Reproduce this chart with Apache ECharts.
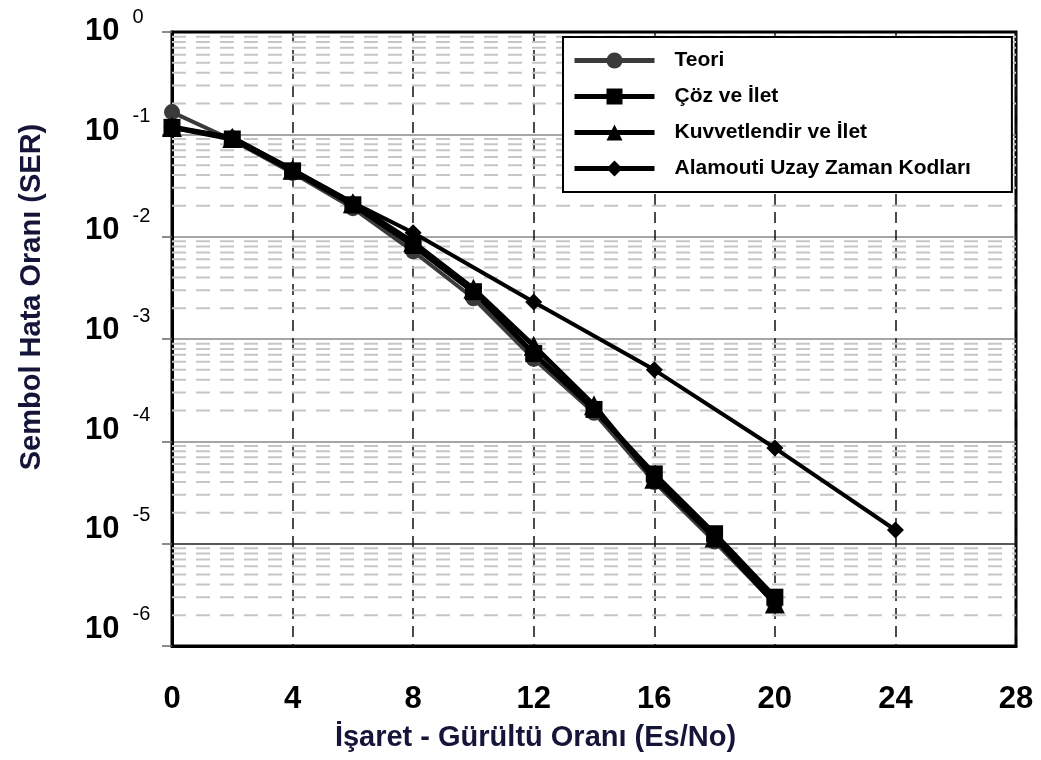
<!DOCTYPE html>
<html><head><meta charset="utf-8">
<script src="https://cdn.jsdelivr.net/npm/echarts@6/dist/echarts.min.js"></script>
<style>html,body{margin:0;padding:0;background:#fff}#c{width:1041px;height:760px}</style>
</head><body><div id="c"></div>
<script>
// ---- data ----
const snr = [0, 2, 4, 6, 8, 10, 12, 14, 16, 18, 20];
const serTeori = [0.165, 0.088, 0.042, 0.019, 0.0072, 0.0025, 6.4e-4, 1.9e-4, 4.0e-5, 1.05e-5, 2.6e-6];
const serCoz = [0.117, 0.090, 0.044, 0.0205, 0.0082, 0.0029, 7.2e-4, 2.05e-4, 4.8e-5, 1.25e-5, 3.0e-6];
const serKuv = [0.118, 0.092, 0.045, 0.0212, 0.0088, 0.0031, 8.6e-4, 2.25e-4, 4.3e-5, 1.15e-5, 2.6e-6];
const snrAlamouti = [0, 2, 4, 6, 8, 12, 16, 20, 24];
const serAlamouti = [0.116, 0.094, 0.045, 0.0215, 0.0109, 2.3e-3, 5.0e-4, 8.6e-5, 1.36e-5];
const seriesNames = ['Teori', 'Çöz ve İlet', 'Kuvvetlendir ve İlet', 'Alamouti Uzay Zaman Kodları'];
const xTickLabels = ['0', '4', '8', '12', '16', '20', '24', '28'];
const minorMantissas = [2, 3, 4, 5, 6, 7, 8, 9];
const decadeExponents = [-6, -5, -4, -3, -2, -1];
const xRange = [0, 28];
const yRange = [1e-6, 1];
const xTitle = 'İşaret - Gürültü Oranı (Es/No)';
const yTitle = 'Sembol Hata Oranı (SER)';

// ---- styling ----
const FONT = 'Liberation Sans';
// tick labels of the original sit on a slightly tighter spacing than the grid
const LABEL_TOP = 27.1, LABEL_DECADE = 99.63;
const labelGridTop = LABEL_TOP, labelGridHeight = LABEL_DECADE * 6;

const minorData = [];
decadeExponents.forEach(e => minorMantissas.forEach(m => {
  const v = m * Math.pow(10, e);
  minorData.push([xRange[0], v], [xRange[1], v], [xRange[1], '-']);
}));

const zip = (xs, ys) => xs.map((x, i) => [x, ys[i]]);
const chart = echarts.init(document.getElementById('c'), null, { renderer: 'canvas' });
chart.setOption({
  animation: false,
  backgroundColor: '#fff',
  grid: [
    { left: 172, right: 25, top: 32, bottom: 114, show: true, borderColor: '#000', borderWidth: 3, backgroundColor: 'transparent' },
    { left: 172, right: 25, top: labelGridTop, height: labelGridHeight, show: false }
  ],
  legend: {
    z: 20,
    data: seriesNames, orient: 'vertical', left: 563, top: 37, padding: [13, 41, 13, 9],
    itemWidth: 80, itemHeight: 20, itemGap: 15, backgroundColor: '#fff', borderColor: '#000', borderWidth: 2,
    lineStyle: { width: 5 },
    textStyle: { fontSize: 21, fontWeight: 'bold', fontFamily: FONT, color: '#000', padding: [0, 0, 0, 15] }
  },
  xAxis: [{
    type: 'value', min: xRange[0], max: xRange[1], interval: 4, gridIndex: 0,
    name: xTitle, nameLocation: 'middle', nameGap: 77,
    nameTextStyle: { fontSize: 29, fontWeight: 'bold', fontFamily: FONT, color: '#15153a', padding: [0, 117, 0, 0] },
    axisLine: { show: true, lineStyle: { color: '#000', width: 3 } },
    axisTick: { show: false },
    axisLabel: { margin: 38, fontSize: 31, fontWeight: 'bold', fontFamily: FONT, color: '#000',
      formatter: (v) => xTickLabels[Math.round(v / 4)] },
    splitLine: { show: true, lineStyle: { color: '#111', width: 1.5, type: [11, 7] } }
  }, {
    type: 'value', min: xRange[0], max: xRange[1], gridIndex: 1, show: false
  }],
  yAxis: [{
    type: 'log', logBase: 10, min: yRange[0], max: yRange[1], gridIndex: 0,
    name: yTitle, nameLocation: 'middle', nameGap: 126, nameRotate: 90,
    nameTextStyle: { fontSize: 29, fontWeight: 'bold', fontFamily: FONT, color: '#15153a', padding: [0, 0, 0, 84] },
    axisLine: { show: true, lineStyle: { color: '#000', width: 3 } },
    axisTick: { show: true, inside: false, length: 10, lineStyle: { color: '#666', width: 1.5 } },
    axisLabel: { show: false },
    splitLine: { show: true, lineStyle: { color: ['#000', '#222', '#888', '#888', '#888', '#888', '#000'], width: 1.5 } }
  }, {
    type: 'log', logBase: 10, min: yRange[0], max: yRange[1], gridIndex: 1,
    axisLine: { show: false }, axisTick: { show: false }, splitLine: { show: false },
    axisLabel: {
      align: 'left', margin: 87,
      rich: {
        b: { fontSize: 31, fontWeight: 'bold', fontFamily: FONT, color: '#000', verticalAlign: 'top', padding: [9, 0, 0, 0] },
        e: { fontSize: 20, fontFamily: FONT, color: '#000', verticalAlign: 'top', padding: [0, 0, 0, 13] }
      },
      formatter: (v) => { const k = Math.round(-Math.log10(v)); return '{b|10}{e|' + (k === 0 ? '0' : '-' + k) + '}'; }
    }
  }],
  series: [
    { type: 'line', z: 1, silent: true, data: minorData, symbol: 'none', connectNulls: false,
      lineStyle: { type: [14, 10], color: '#c6c6c6', width: 2 } },
    { name: seriesNames[0], type: 'line', data: zip(snr, serTeori), symbol: 'circle', symbolSize: 16,
      itemStyle: { color: '#3a3a3a' }, lineStyle: { color: '#3a3a3a', width: 4 } },
    { name: seriesNames[1], type: 'line', data: zip(snr, serCoz), symbol: 'rect', symbolSize: 17,
      itemStyle: { color: '#000' }, lineStyle: { color: '#000', width: 5 } },
    { name: seriesNames[2], type: 'line', data: zip(snr, serKuv), symbol: 'triangle', symbolSize: 20,
      itemStyle: { color: '#000' }, lineStyle: { color: '#000', width: 5 } },
    { name: seriesNames[3], type: 'line', data: zip(snrAlamouti, serAlamouti), symbol: 'diamond', symbolSize: 17,
      itemStyle: { color: '#000' }, lineStyle: { color: '#000', width: 4 } }
  ]
});
</script></body></html>
